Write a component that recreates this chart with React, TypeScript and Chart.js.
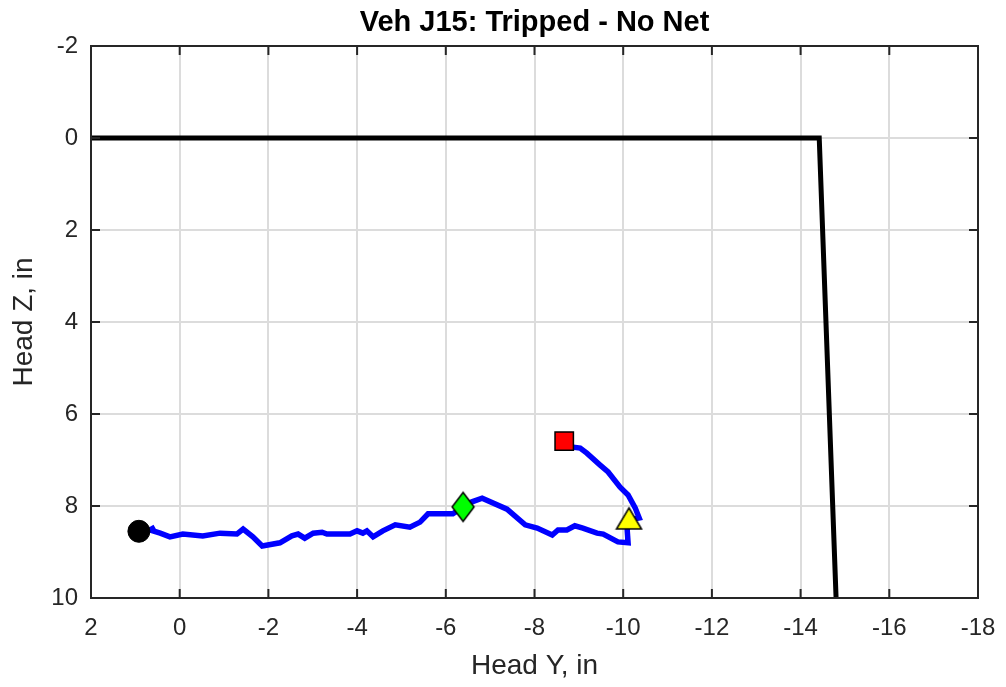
import React, { useEffect, useRef } from "react";
import { Chart, registerables } from "chart.js";
Chart.register(...registerables);

const titleText = "Veh J15: Tripped - No Net";
const xLabel = "Head Y, in";
const yLabel = "Head Z, in";

const traceY = [0.56, 0.67, 0.44, 0.22, -0.07, -0.52, -0.91, -1.29, -1.43, -1.65, -1.86, -2.26, -2.53, -2.67, -2.82, -3.01, -3.21, -3.32, -3.84, -4.0, -4.13, -4.22, -4.36, -4.58, -4.86, -5.19, -5.42, -5.6, -6.16, -6.39, -6.59, -6.82, -7.38, -7.79, -8.06, -8.4, -8.53, -8.73, -8.91, -9.09, -9.41, -9.55, -9.88, -10.11, -10.09, -10.15, -10.36, -10.27, -10.11, -9.93, -9.66, -9.48, -9.18, -9.03, -8.87, -8.67];
const traceZ = [8.46, 8.52, 8.59, 8.67, 8.61, 8.65, 8.59, 8.61, 8.5, 8.67, 8.87, 8.8, 8.65, 8.61, 8.7, 8.59, 8.57, 8.61, 8.61, 8.54, 8.59, 8.54, 8.67, 8.54, 8.41, 8.46, 8.35, 8.17, 8.17, 8.02, 7.91, 7.83, 8.07, 8.41, 8.48, 8.63, 8.52, 8.52, 8.43, 8.48, 8.59, 8.61, 8.78, 8.8, 8.52, 8.3, 8.26, 8.04, 7.76, 7.59, 7.26, 7.11, 6.85, 6.74, 6.72, 6.59];

const boundaryY = [2, -14.42, -14.8];
const boundaryZ = [0, 0, 10];

const circleMark = { y: 0.92, z: 8.55 };
const diamondMark = { y: -6.39, z: 8.02 };
const squareMark = { y: -8.67, z: 6.59 };
const triangleMark = { y: -10.13, z: 8.28 };

const FONT = "'Liberation Sans', Arial, Helvetica, sans-serif";
const TEXT = "#262626";

function makeShape(w: number, h: number, pts: number[][], fill: string) {
  const c = document.createElement("canvas");
  c.width = w;
  c.height = h;
  const g = c.getContext("2d")!;
  g.beginPath();
  pts.forEach(([x, y], i) => (i ? g.lineTo(x, y) : g.moveTo(x, y)));
  g.closePath();
  g.fillStyle = fill;
  g.fill();
  g.strokeStyle = "#000";
  g.lineWidth = 1.5;
  g.lineJoin = "miter";
  g.stroke();
  return c;
}

const framePlugin = {
  id: "frame",
  afterDraw(chart: any) {
    const { ctx, chartArea } = chart;
    const { left, right, top, bottom } = chartArea;
    const xs = chart.scales.x;
    const ys = chart.scales.y;
    ctx.save();
    ctx.strokeStyle = TEXT;
    ctx.lineWidth = 2;
    const tl = 9;
    ctx.beginPath();
    xs.ticks.forEach((t: any) => {
      const px = xs.getPixelForValue(t.value);
      ctx.moveTo(px, bottom);
      ctx.lineTo(px, bottom - tl);
      ctx.moveTo(px, top);
      ctx.lineTo(px, top + tl);
    });
    ys.ticks.forEach((t: any) => {
      const py = ys.getPixelForValue(t.value);
      ctx.moveTo(left, py);
      ctx.lineTo(left + tl, py);
      ctx.moveTo(right, py);
      ctx.lineTo(right - tl, py);
    });
    ctx.stroke();
    ctx.strokeRect(left, top, right - left, bottom - top);

    // title
    ctx.fillStyle = "#000";
    ctx.font = `bold 29px ${FONT}`;
    ctx.textAlign = "center";
    ctx.textBaseline = "middle";
    ctx.fillText(titleText, (left + right) / 2, 23);

    // axis titles
    ctx.fillStyle = TEXT;
    ctx.font = `28px ${FONT}`;
    ctx.fillText(xLabel, (left + right) / 2, 666);
    ctx.translate(24, (top + bottom) / 2);
    ctx.rotate(-Math.PI / 2);
    ctx.fillText(yLabel, 0, 0);
    ctx.restore();
  },
};

export default function App() {
  const ref = useRef<HTMLCanvasElement>(null);
  useEffect(() => {
    const toPts = (a: number[], b: number[]) => a.map((v, i) => ({ x: v, y: b[i] }));
    const diamond = makeShape(26, 33, [[13, 2], [24, 16.5], [13, 31], [2, 16.5]], "#00ff00");
    const triangle = makeShape(29, 26, [[14.5, 2], [27, 23], [2, 23]], "#ffff00");
    const chart = new Chart(ref.current!, {
      type: "scatter",
      data: {
        datasets: [
          {
            data: [{ x: circleMark.y, y: circleMark.z }],
            pointStyle: "circle",
            pointRadius: 11,
            backgroundColor: "#000",
            borderColor: "#000",
            borderWidth: 1,
            order: 0,
          },
          {
            data: [{ x: diamondMark.y, y: diamondMark.z }],
            pointStyle: diamond,
            pointRadius: 13,
            order: 0,
          },
          {
            data: [{ x: squareMark.y, y: squareMark.z }],
            pointStyle: "rect",
            pointRadius: 13,
            backgroundColor: "#ff0000",
            borderColor: "#000",
            borderWidth: 1.5,
            order: 0,
          },
          {
            data: [{ x: triangleMark.y, y: triangleMark.z }],
            pointStyle: triangle,
            pointRadius: 13,
            order: 0,
          },
          {
            data: toPts(traceY, traceZ),
            showLine: true,
            borderColor: "#0000ff",
            borderWidth: 5.5,
            pointRadius: 0,
            tension: 0,
            order: 1,
          },
          {
            data: toPts(boundaryY, boundaryZ),
            showLine: true,
            borderColor: "#000",
            borderWidth: 5,
            pointRadius: 0,
            tension: 0,
            order: 2,
          },
        ],
      },
      options: {
        animation: false,
        responsive: false,
        maintainAspectRatio: false,
        layout: { padding: { top: 46, right: 28, left: 0, bottom: 0 } },
        plugins: { legend: { display: false }, tooltip: { enabled: false }, title: { display: false } },
        scales: {
          x: {
            type: "linear",
            min: -18,
            max: 2,
            reverse: true,
            border: { display: false },
            grid: { color: "#dcdcdc", lineWidth: 2, drawTicks: false },
            ticks: { stepSize: 2, color: TEXT, font: { family: FONT, size: 24 }, padding: 16 },
            title: { display: false },
            afterFit: (s: any) => { s.height = 89; s.paddingLeft = 0; s.paddingRight = 0; },
          },
          y: {
            type: "linear",
            min: -2,
            max: 10,
            reverse: true,
            border: { display: false },
            grid: { color: "#dcdcdc", lineWidth: 2, drawTicks: false },
            ticks: { stepSize: 2, color: TEXT, font: { family: FONT, size: 24 }, padding: 13 },
            title: { display: false },
            afterFit: (s: any) => { s.width = 91; s.paddingTop = 0; s.paddingBottom = 0; },
          },
        },
      },
      plugins: [framePlugin],
    });
    return () => chart.destroy();
  }, []);
  return (
    <div style={{ position: "fixed", left: 0, top: 0, width: 1006, height: 687, background: "#fff" }}>
      <canvas ref={ref} width={1006} height={687} style={{ width: 1006, height: 687 }} />
    </div>
  );
}
